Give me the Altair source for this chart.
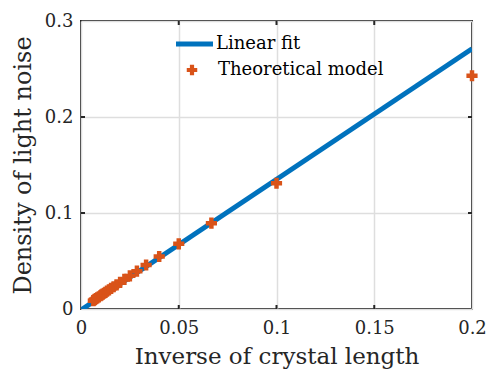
import altair as alt
import pandas as pd

# data
inv_length = [0.2, 0.1, 0.0667, 0.05, 0.04, 0.0333, 0.0286, 0.025, 0.0222, 0.02,
              0.0182, 0.0167, 0.0154, 0.0143, 0.0133, 0.0125, 0.0118, 0.0111, 0.0105, 0.01,
              0.0091, 0.0083, 0.0077, 0.0071, 0.0067, 0.0063]
density = [0.243, 0.131, 0.0894, 0.0679, 0.0547, 0.0458, 0.0394, 0.0345, 0.0308, 0.0277,
           0.0252, 0.0232, 0.0214, 0.0199, 0.0186, 0.0174, 0.0164, 0.0155, 0.0147, 0.0140,
           0.0127, 0.0116, 0.0108, 0.0100, 0.0093, 0.0087]
fit_x = [0.0, 0.2]
fit_y = [-0.001, 0.271]
x_ticks = [0, 0.05, 0.1, 0.15, 0.2]
y_ticks = [0, 0.1, 0.2, 0.3]
legend_labels = ["Linear fit", "Theoretical model"]

W, H = 391, 288
BLUE = "#0072BD"
ORANGE = "#D95319"
FONT = "DejaVu Serif"
DARK = "#262626"

pts = pd.DataFrame({"x": inv_length, "y": density})
fit = pd.DataFrame({"x": fit_x, "y": fit_y})

xs = alt.Scale(domain=[0, 0.2], nice=False, zero=False)
ys = alt.Scale(domain=[0, 0.3], nice=False, zero=False)

xaxis = alt.Axis(values=x_ticks, format="~g", title="Inverse of crystal length",
                 grid=True, gridColor="#dedede", gridWidth=1.5, domain=False, ticks=False,
                 labelFlush=False, labelOverlap=False,
                 labelFont=FONT, labelFontSize=18, labelColor=DARK, labelPadding=10,
                 titleFont=FONT, titleFontSize=23, titleFontWeight="normal", titleColor=DARK,
                 titlePadding=8)
yaxis = alt.Axis(values=y_ticks, format="~g", title="Density of light noise",
                 grid=True, gridColor="#dedede", gridWidth=1.5, domain=False, ticks=False,
                 labelFlush=False, labelOverlap=False,
                 labelFont=FONT, labelFontSize=18, labelColor=DARK, labelPadding=8,
                 titleFont=FONT, titleFontSize=24, titleFontWeight="normal", titleColor=DARK,
                 titlePadding=9)

line = alt.Chart(fit).mark_line(color=BLUE, strokeWidth=5, clip=True).encode(
    x=alt.X("x:Q", scale=xs, axis=xaxis),
    y=alt.Y("y:Q", scale=ys, axis=yaxis),
)
points = alt.Chart(pts).mark_point(shape="cross", filled=True, color=ORANGE, size=125,
                                   opacity=1).encode(
    x=alt.X("x:Q", scale=xs), y=alt.Y("y:Q", scale=ys))

xt = pd.DataFrame({"v": x_ticks[1:-1]})
yt = pd.DataFrame({"v": y_ticks[1:-1]})
xticks_b = alt.Chart(xt).mark_rule(color=DARK, strokeWidth=2).encode(
    x=alt.X("v:Q", scale=xs), y=alt.value(H), y2=alt.value(H - 4))
xticks_t = alt.Chart(xt).mark_rule(color=DARK, strokeWidth=2).encode(
    x=alt.X("v:Q", scale=xs), y=alt.value(0), y2=alt.value(4))
yticks_l = alt.Chart(yt).mark_rule(color=DARK, strokeWidth=2).encode(
    y=alt.Y("v:Q", scale=ys), x=alt.value(0), x2=alt.value(4))
yticks_r = alt.Chart(yt).mark_rule(color=DARK, strokeWidth=2).encode(
    y=alt.Y("v:Q", scale=ys), x=alt.value(W), x2=alt.value(W - 4))

leg = pd.DataFrame({"label": legend_labels})
leg_line = alt.Chart(leg.iloc[[0]]).mark_rule(color=BLUE, strokeWidth=5).encode(
    x=alt.value(95), x2=alt.value(132), y=alt.value(23))
leg_pt = alt.Chart(leg.iloc[[1]]).mark_point(shape="cross", filled=True, color=ORANGE,
                                              size=110, opacity=1).encode(
    x=alt.value(111), y=alt.value(49))
leg_text1 = alt.Chart(leg.iloc[[0]]).mark_text(align="left", baseline="middle", font=FONT,
                                               fontSize=18, color="#000000").encode(
    x=alt.value(135), y=alt.value(23), text="label:N")
leg_text2 = alt.Chart(leg.iloc[[1]]).mark_text(align="left", baseline="middle", font=FONT,
                                               fontSize=18, color="#000000").encode(
    x=alt.value(137), y=alt.value(49), text="label:N")

chart = alt.layer(line, xticks_b, xticks_t, yticks_l, yticks_r, points,
                  leg_line, leg_pt, leg_text1, leg_text2).properties(
    width=W, height=H,
    autosize=alt.AutoSizeParams(type="none"),
    padding={"left": 73, "top": 13, "right": 18, "bottom": 70},
).configure_view(stroke=DARK, strokeWidth=2)

chart.save("out.html", embed_options={"renderer": "svg", "actions": False})
